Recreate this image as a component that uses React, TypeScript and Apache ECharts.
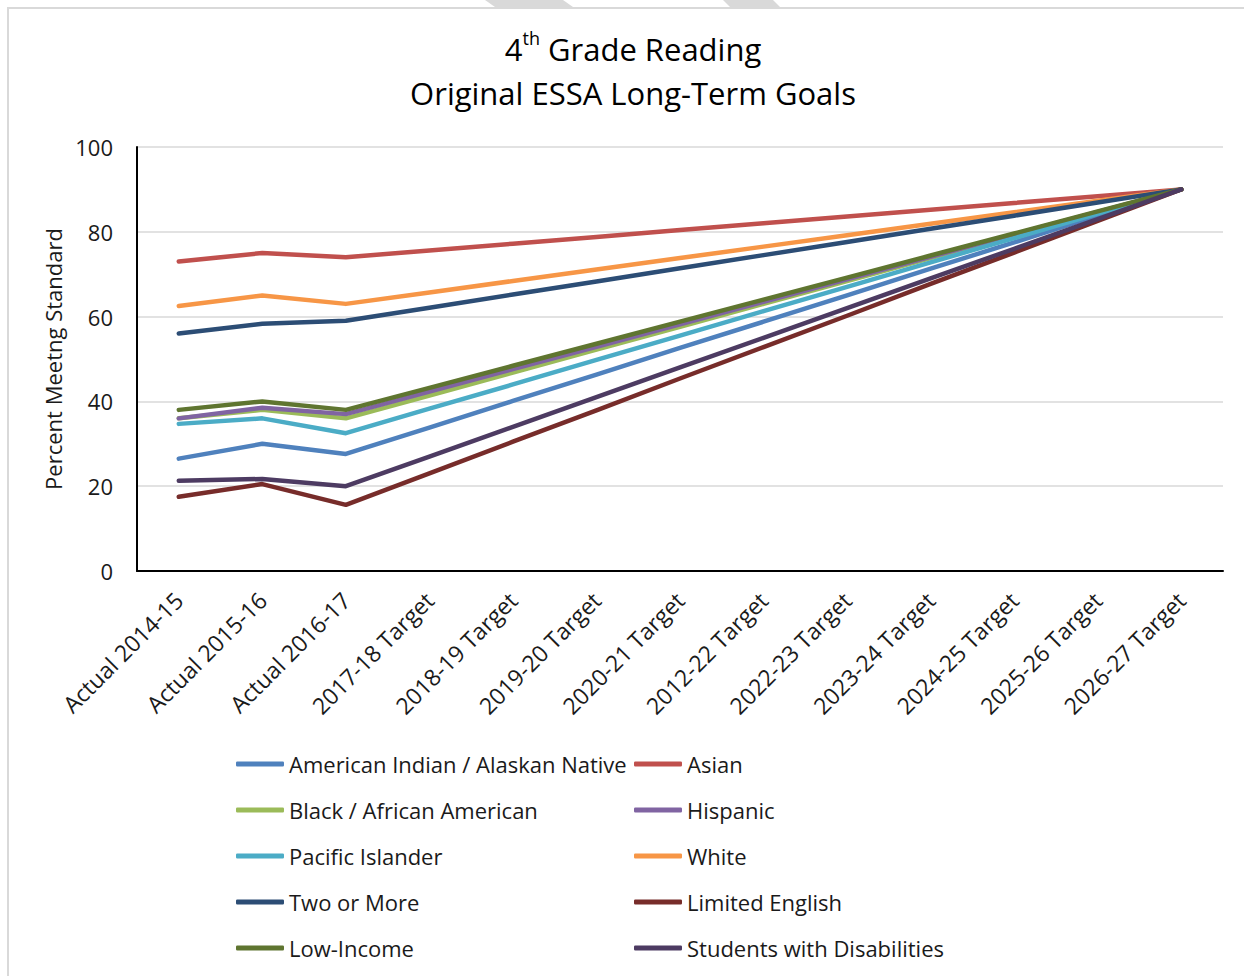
import React, { useEffect, useRef } from "react";
import * as echarts from "echarts";

const categories = [
  "Actual 2014-15",
  "Actual 2015-16",
  "Actual 2016-17",
  "2017-18 Target",
  "2018-19 Target",
  "2019-20 Target",
  "2020-21 Target",
  "2012-22 Target",
  "2022-23 Target",
  "2023-24 Target",
  "2024-25 Target",
  "2025-26 Target",
  "2026-27 Target",
];

const americanIndian = [26.5, 30.0, 27.6, 33.8, 40.1, 46.3, 52.6, 58.8, 65.0, 71.3, 77.5, 83.8, 90];
const asian = [73.0, 75.0, 74.0, 75.6, 77.2, 78.8, 80.4, 82.0, 83.6, 85.2, 86.8, 88.4, 90];
const black = [36.0, 38.0, 36.0, 41.4, 46.8, 52.2, 57.6, 63.0, 68.4, 73.8, 79.2, 84.6, 90];
const hispanic = [36.0, 38.5, 37.0, 42.3, 47.6, 52.9, 58.2, 63.5, 68.8, 74.1, 79.4, 84.7, 90];
const pacificIslander = [34.7, 36.0, 32.5, 38.3, 44.0, 49.8, 55.5, 61.3, 67.0, 72.8, 78.5, 84.3, 90];
const white = [62.5, 65.0, 63.0, 65.7, 68.4, 71.1, 73.8, 76.5, 79.2, 81.9, 84.6, 87.3, 90];
const twoOrMore = [56.0, 58.3, 59.0, 62.1, 65.2, 68.3, 71.4, 74.5, 77.6, 80.7, 83.8, 86.9, 90];
const limitedEnglish = [17.5, 20.5, 15.6, 23.0, 30.5, 37.9, 45.4, 52.8, 60.2, 67.7, 75.1, 82.6, 90];
const lowIncome = [38.0, 40.0, 38.0, 43.2, 48.4, 53.6, 58.8, 64.0, 69.2, 74.4, 79.6, 84.8, 90];
const disabilities = [21.3, 21.7, 20.0, 27.0, 34.0, 41.0, 48.0, 55.0, 62.0, 69.0, 76.0, 83.0, 90];

const seriesNames = [
  "American Indian / Alaskan Native",
  "Asian",
  "Black / African American",
  "Hispanic",
  "Pacific Islander",
  "White",
  "Two or More",
  "Limited English",
  "Low-Income",
  "Students with Disabilities",
];
const seriesData = [
  americanIndian,
  asian,
  black,
  hispanic,
  pacificIslander,
  white,
  twoOrMore,
  limitedEnglish,
  lowIncome,
  disabilities,
];
const seriesColors = [
  "#4F81BD",
  "#C0504D",
  "#9BBB59",
  "#8064A2",
  "#4BACC6",
  "#F79646",
  "#2C4D75",
  "#772C2A",
  "#5F7530",
  "#4D3B62",
];

const yMin = 0;
const yMax = 100;
const yStep = 20;

const titleLine1 = ["4", "th", " Grade Reading"];
const titleLine2 = "Original ESSA Long-Term Goals";
const yAxisName = "Percent Meetng Standard";

const FONT = "'Open Sans', 'Noto Sans', sans-serif";

export default function App() {
  const ref = useRef<HTMLDivElement>(null);

  useEffect(() => {
    if (!ref.current) return;
    const chart = echarts.init(ref.current, undefined, { renderer: "svg" });

    const legendText = {
      fontFamily: FONT,
      fontSize: 22,
      color: "#1a1a1a",
      lineHeight: 24,
    };

    const option: any = {
      animation: false,
      backgroundColor: "#ffffff",
      title: [
        {
          text: `{a|${titleLine1[0]}}{s|${titleLine1[1]}}{a|${titleLine1[2]}}`,
          left: 628,
          textAlign: "center",
          top: 24,
          textStyle: {
            fontWeight: "normal",
            rich: {
              a: { fontFamily: FONT, fontSize: 31, color: "#000", fontWeight: "normal", lineHeight: 40 },
              s: { fontFamily: FONT, fontSize: 18, color: "#000", fontWeight: "normal", lineHeight: 22, verticalAlign: "top" },
            },
          },
        },
        {
          text: titleLine2,
          left: 628,
          textAlign: "center",
          top: 68,
          textStyle: { fontFamily: FONT, fontSize: 31, color: "#000", fontWeight: "normal", lineHeight: 40 },
        },
      ],
      graphic: [
        { type: "rect", shape: { x: 7, y: 7, width: 1237, height: 2 }, style: { fill: "#d9d9d9" }, silent: true },
        { type: "rect", shape: { x: 7, y: 7, width: 2, height: 969 }, style: { fill: "#d9d9d9" }, silent: true },
        { type: "polygon", shape: { points: [[485, 0], [563, 0], [573, 7], [495, 7]] }, style: { fill: "#d9d9d9" }, silent: true },
        { type: "polygon", shape: { points: [[723, 0], [773, 0], [780, 7], [730, 7]] }, style: { fill: "#d9d9d9" }, silent: true },
      ],
      legend: [
        {
          left: 231,
          top: 747,
          orient: "vertical",
          itemGap: 22,
          itemWidth: 48,
          itemHeight: 5,
          icon: "roundRect",
          textStyle: legendText,
          data: [seriesNames[0], seriesNames[2], seriesNames[4], seriesNames[6], seriesNames[8]],
        },
        {
          left: 629,
          top: 747,
          orient: "vertical",
          itemGap: 22,
          itemWidth: 48,
          itemHeight: 5,
          icon: "roundRect",
          textStyle: legendText,
          data: [seriesNames[1], seriesNames[3], seriesNames[5], seriesNames[7], seriesNames[9]],
        },
      ],
      grid: { left: 137, right: 21, top: 147, bottom: 405, containLabel: false },
      xAxis: {
        type: "category",
        data: categories,
        boundaryGap: true,
        axisLine: { show: true, lineStyle: { color: "#000", width: 2 } },
        axisTick: { show: false },
        axisLabel: {
          rotate: 45,
          interval: 0,
          margin: 25,
          fontFamily: FONT,
          fontSize: 23,
          color: "#1a1a1a",
        },
        splitLine: { show: false },
      },
      yAxis: {
        type: "value",
        min: yMin,
        max: yMax,
        interval: yStep,
        name: yAxisName,
        nameLocation: "middle",
        nameRotate: 90,
        nameGap: 71,
        nameTextStyle: { fontFamily: FONT, fontSize: 22, color: "#1a1a1a" },
        axisLine: { show: true, lineStyle: { color: "#000", width: 2 } },
        axisTick: { show: false },
        axisLabel: { margin: 24, fontFamily: FONT, fontSize: 22, color: "#1a1a1a" },
        splitLine: { show: true, lineStyle: { color: "#d9d9d9", width: 1.5 } },
      },
      series: seriesNames.map((name, i) => ({
        name,
        type: "line",
        data: seriesData[i],
        symbol: "none",
        color: seriesColors[i],
        lineStyle: { width: 4.5, color: seriesColors[i], cap: "round", join: "round" },
        z: 2 + i * 0.01,
      })),
    };

    chart.setOption(option);
    return () => chart.dispose();
  }, []);

  return (
    <div
      ref={ref}
      style={{ position: "absolute", left: 0, top: 0, width: 1244, height: 976 }}
    />
  );
}
